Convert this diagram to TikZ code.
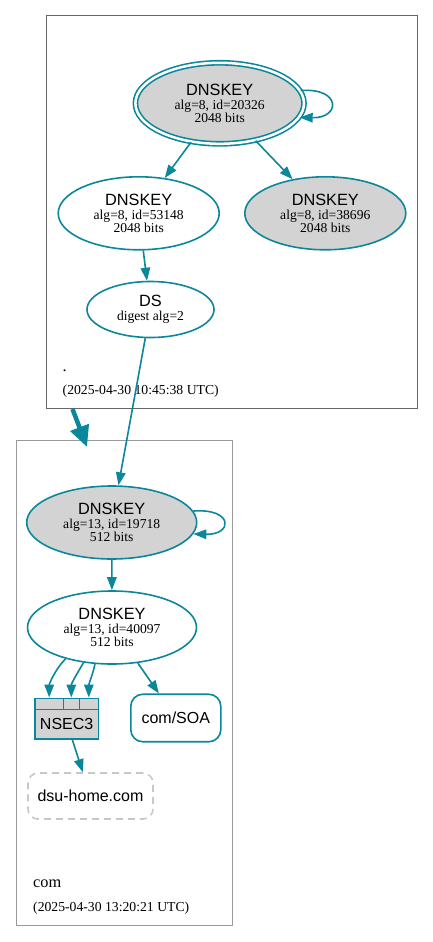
\documentclass[tikz,border=0pt]{standalone}
\usepackage{fontspec}
\setmainfont{Liberation Serif}
\setsansfont{Liberation Sans}
\usetikzlibrary{arrows.meta,shapes.geometric}
\definecolor{secure}{HTML}{0A879A}
\definecolor{keyfill}{HTML}{D3D3D3}
\definecolor{rootframe}{HTML}{666666}
\definecolor{comframe}{HTML}{9A9A9A}
\definecolor{nonexist}{HTML}{C8C8C8}
\newcommand{\rrtitle}[1]{\textsf{\fontsize{16.3}{16}\selectfont #1}}
\newcommand{\dnskeylabel}[2]{\rrtitle{DNSKEY}\\[1pt]#1\\#2}

\begin{document}
\begin{tikzpicture}[x=1pt,y=-1pt,
    key/.style={ellipse,draw=secure,line width=1.6pt,inner sep=0pt,align=center,
      font=\fontsize{13.6}{13}\selectfont},
    ksk/.style={key,fill=keyfill},
    rrbox/.style={rectangle,rounded corners=12pt,draw=secure,line width=1.6pt,
      font=\sffamily\fontsize{16}{18}\selectfont,minimum width=90pt,minimum height=47.5pt},
    nsecbox/.style={rectangle,draw=secure,fill=keyfill,line width=1.6pt,inner sep=0pt},
    edge/.style={draw=secure,line width=1.6pt,-{Triangle[length=13pt,width=9.5pt]}},
    zonelabel/.style={anchor=base west,inner sep=0pt,font=\fontsize{16.3}{18}\selectfont},
    stamp/.style={anchor=base west,inner sep=0pt,font=\fontsize{13.7}{15}\selectfont}]
    \useasboundingbox (0,0) rectangle (433,942);

    % zone .
    \draw[rootframe,line width=0.8pt] (46.5,15.5) rectangle (417.5,408.5);
    \node[ksk,double=white,double distance=2.5pt,minimum width=168.6pt,minimum height=81pt]
        (rootksk) at (219.7,103.3) {\dnskeylabel{alg=8, id=20326}{2048 bits}};
    \node[key,minimum width=161pt,minimum height=73pt]
        (rootzsk) at (138.7,213.3) {\dnskeylabel{alg=8, id=53148}{2048 bits}};
    \node[ksk,minimum width=161pt,minimum height=73pt]
        (rootzskb) at (325.3,213.3) {\dnskeylabel{alg=8, id=38696}{2048 bits}};
    \node[key,minimum width=127pt,minimum height=56pt]
        (rootds) at (150.5,309.5) {\rrtitle{DS}\\[1pt]digest alg=2};
    \node[zonelabel] (rootname) at (62.5,371) {.};
    \node[stamp] (rootstamp) at (62.5,394.5) {(2025-04-30 10:45:38 UTC)};

    % zone com
    \draw[comframe,line width=0.8pt] (16,440) rectangle (232,925.5);
    \node[ksk,minimum width=170pt,minimum height=73pt]
        (comksk) at (111.7,522.5) {\dnskeylabel{alg=13, id=19718}{512 bits}};
    \node[key,minimum width=169pt,minimum height=73pt]
        (comzsk) at (112,627.5) {\dnskeylabel{alg=13, id=40097}{512 bits}};
    \node[nsecbox,minimum width=28.3pt,minimum height=11pt] (cella) at (49.2,703.8) {};
    \node[nsecbox,minimum width=16pt,minimum height=11pt] (cellb) at (71.3,703.8) {};
    \node[nsecbox,minimum width=19pt,minimum height=11pt] (cellc) at (88.8,703.8) {};
    \node[nsecbox,minimum width=63.3pt,minimum height=29.7pt,
        font=\sffamily\fontsize{16}{18}\selectfont] (comnsec) at (66.65,724.2) {NSEC3};
    \node[rrbox] (comsoa) at (175.8,718) {com/SOA};
    \node[rrbox,draw=nonexist,dash pattern=on 7pt off 5pt,rounded corners=10pt,
        minimum width=125pt,minimum height=46pt] (dsuhome) at (90.5,796) {dsu-home.com};
    \node[zonelabel] (comname) at (33,887) {com};
    \node[stamp] (comstamp) at (33,911.5) {(2025-04-30 13:20:21 UTC)};

    \coordinate (rootexit) at (72.5,409);
    \coordinate (comentry) at (87,447);

    \draw[edge] (rootksk) -- (rootzsk);
    \draw[edge] (rootksk) -- (rootzskb);
    \draw[edge] (rootksk.9) .. controls +(41,-3) and +(41,1) .. (rootksk.-10);
    \draw[edge] (rootzsk) -- (rootds);
    \draw[edge] (rootds) -- (comksk);
    \draw[secure,line width=4.5pt,-{Triangle[length=21pt,width=19pt]}] (rootexit) -- (comentry);
    \draw[edge] (comksk) -- (comzsk);
    \draw[edge] (comksk.8) .. controls +(40,-3) and +(40,1) .. (comksk.-8);
    \draw[edge] (comzsk.214) .. controls +(-10,10) and +(0,-14) .. (cella.north);
    \draw[edge] (comzsk.231) .. controls +(-6,10) and +(0,-14) .. (cellb.north);
    \draw[edge] (comzsk.245) .. controls +(-2,10) and +(0,-14) .. (cellc.north);
    \draw[edge] (comzsk.306) -- (comsoa);
    \draw[edge] (comnsec.-70) -- (dsuhome);
\end{tikzpicture}
\end{document}
